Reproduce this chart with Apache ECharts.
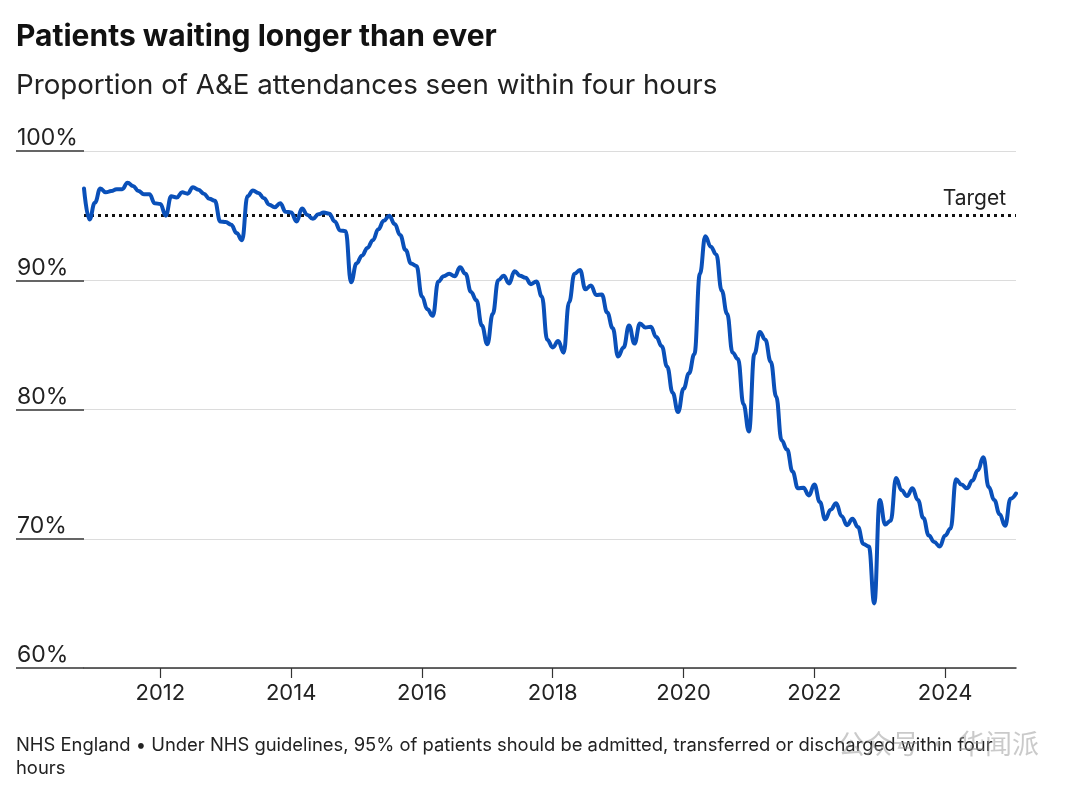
<!DOCTYPE html>
<html>
<head>
<meta charset="utf-8">
<script src="https://cdn.jsdelivr.net/npm/echarts@6/dist/echarts.min.js"></script>
<style>
html,body{margin:0;padding:0;background:#fff;}
#chart{width:1080px;height:790px;}
</style>
</head>
<body>
<div id="chart"></div>
<script>
// Monthly series, starting November 2010
const startYear = 2010;
const startMonth = 11;
const seenWithin4h = [
  97.1, 94.7, 96.0, 97.1, 96.8, 96.9, 97.05, 97.05, 97.55, 97.3, 96.9, 96.65,
  96.65, 95.95, 95.9, 95.0, 96.5, 96.4, 96.8, 96.7, 97.2, 97.0, 96.7, 96.3,
  96.15, 94.55, 94.5, 94.3, 93.65, 93.1, 96.5, 96.95, 96.75, 96.35, 95.85, 95.65,
  95.95, 95.3, 95.25, 94.55, 95.55, 95.05, 94.75, 95.1, 95.25, 95.15, 94.55, 93.85,
  93.8, 89.85, 91.3, 91.9, 92.5, 93.1, 93.95, 94.6, 95.0, 94.35, 93.5, 92.35,
  91.3, 91.1, 88.75, 87.75, 87.25, 89.9, 90.3, 90.5, 90.3, 91.0, 90.5, 89.1,
  88.45, 86.5, 85.05, 87.4, 90.0, 90.35, 89.75, 90.7, 90.35, 90.2, 89.7, 89.9,
  88.75, 85.4, 84.8, 85.3, 84.4, 88.3, 90.5, 90.8, 89.3, 89.6, 88.85, 88.9,
  87.5, 86.3, 84.1, 84.8, 86.5, 85.1, 86.65, 86.35, 86.4, 85.6, 84.9, 83.3,
  81.3, 79.8, 81.6, 82.8, 84.3, 90.5, 93.4, 92.6, 92.0, 89.2, 87.4, 84.4,
  83.9, 80.4, 78.3, 84.3, 86.0, 85.4, 83.7, 81.0, 77.6, 76.9, 75.2, 73.9,
  73.95, 73.35, 74.2, 72.85, 71.5, 72.25, 72.75, 71.75, 71.05, 71.55, 70.9, 69.6,
  69.4, 65.0, 73.0, 71.1, 71.4, 74.7, 73.75, 73.3, 73.9, 73.0, 71.6, 70.25,
  69.75, 69.4, 70.25, 70.8, 74.6, 74.2, 73.9, 74.5, 75.3, 76.3, 74.0, 73.0,
  71.9, 71.0, 73.1, 73.5
];
const targetValue = 95;
const yTicks = [60, 70, 80, 90, 100];
const xTickYears = [2012, 2014, 2016, 2018, 2020, 2022, 2024];

const titleText = 'Patients waiting longer than ever';
const subtitleText = 'Proportion of A&E attendances seen within four hours';
const footerText = 'NHS England \u2022 Under NHS guidelines, 95% of patients should be admitted, transferred or discharged within four\nhours';
const watermarkText = '公众号 · 华闻派';

const seriesData = seenWithin4h.map((v, i) => [startYear + (startMonth - 1 + i) / 12, v]);

const chart = echarts.init(document.getElementById('chart'), null, {renderer: 'canvas'});
const FONT = 'Inter, "Noto Sans", sans-serif';

chart.setOption({
  animation: false,
  backgroundColor: '#fff',
  textStyle: {fontFamily: FONT},
  title: [
    {text: titleText, left: 16, top: 22, padding: 0, textStyle: {fontFamily: FONT, fontSize: 30, fontWeight: 'bold', color: '#111'}},
    {text: subtitleText, left: 16, top: 72, padding: 0, textStyle: {fontFamily: FONT, fontSize: 27.7, fontWeight: 'normal', color: '#222'}},
    {text: footerText, left: 16, top: 734, padding: 0, textStyle: {fontFamily: FONT, fontSize: 18.4, fontWeight: 'normal', color: '#222', lineHeight: 23}},
    {text: watermarkText, left: 838, top: 730, padding: 0, textStyle: {fontFamily: '"Noto Sans CJK SC", sans-serif', fontSize: 27, fontWeight: 'normal', color: 'rgba(150,150,150,0.5)'}}
  ],
  grid: {left: 84, right: 64, top: 151, bottom: 122, containLabel: false},
  xAxis: {
    type: 'value',
    min: seriesData[0][0],
    max: seriesData[seriesData.length - 1][0],
    axisLine: {show: true, lineStyle: {color: '#333', width: 1.5}},
    axisTick: {show: true, length: 10, customValues: xTickYears, lineStyle: {color: '#333', width: 1.2}},
    axisLabel: {show: true, customValues: xTickYears, formatter: v => String(v), fontSize: 22, color: '#222', margin: 14, fontFamily: FONT},
    splitLine: {show: false}
  },
  yAxis: {
    type: 'value',
    min: yTicks[0],
    max: yTicks[yTicks.length - 1],
    interval: 10,
    axisLine: {show: false},
    axisTick: {show: true, length: 68, lineStyle: {color: '#333', width: 1.5}},
    axisLabel: {
      show: true, formatter: '{value}%', align: 'left', verticalAlign: 'bottom',
      margin: 67, fontSize: 23, color: '#222', padding: [0, 0, 1, 0], fontFamily: FONT
    },
    splitLine: {show: true, lineStyle: {color: '#dcdcdc', width: 1}}
  },
  series: [{
    type: 'line',
    data: seriesData,
    smooth: 0.45,
    smoothMonotone: 'x',
    symbol: 'none',
    lineStyle: {color: '#0a50b9', width: 4, cap: 'round', join: 'round'},
    z: 3,
    markLine: {
      silent: true,
      symbol: 'none',
      z: 2,
      data: [{yAxis: targetValue}],
      lineStyle: {color: '#111', width: 3, type: [3, 4]},
      label: {show: true, formatter: 'Target', position: 'insideEndTop', distance: [10, 6], fontSize: 21, color: '#222', fontFamily: FONT}
    }
  }]
});
</script>
</body>
</html>
